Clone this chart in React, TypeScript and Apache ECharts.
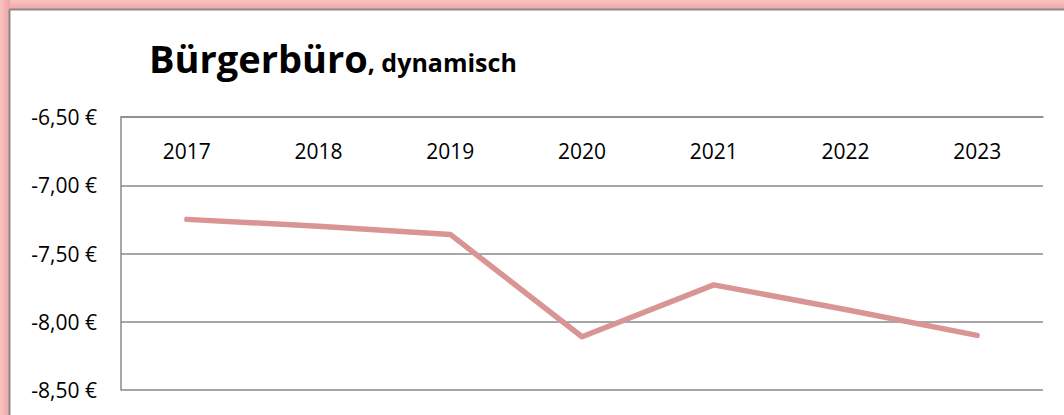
import React, { useEffect, useRef } from "react";
import * as echarts from "echarts";

const years = ["2017", "2018", "2019", "2020", "2021", "2022", "2023"];
const values = [-7.25, -7.3, -7.36, -8.11, -7.73, -7.91, -8.1];
const yMin = -8.5;
const yMax = -6.5;
const yStep = 0.5;
const titleMain = "Bürgerbüro";
const titleSub = ", dynamisch";

const FONT = "'Open Sans', 'Noto Sans', sans-serif";

export default function App() {
  const ref = useRef<HTMLDivElement>(null);
  useEffect(() => {
    document.body.style.margin = "0";
    const chart = echarts.init(ref.current!, null, { renderer: "svg" });
    chart.setOption({
      animation: false,
      backgroundColor: "#ffffff",
      textStyle: { fontFamily: FONT },
      graphic: [
        {
          type: "rect",
          z: -10,
          silent: true,
          shape: { x: 0, y: 0, width: 1064, height: 10 },
          style: {
            fill: new echarts.graphic.LinearGradient(0, 0, 0, 1, [
              { offset: 0, color: "#f9c4c4" },
              { offset: 1, color: "#f2a2a2" },
            ]),
          },
        },
        {
          type: "rect",
          z: -10,
          silent: true,
          shape: { x: 0, y: 0, width: 10, height: 415 },
          style: {
            fill: new echarts.graphic.LinearGradient(0, 0, 1, 0, [
              { offset: 0, color: "#f9c4c4" },
              { offset: 1, color: "#f2a2a2" },
            ]),
          },
        },
        {
          type: "line",
          z: -9,
          silent: true,
          shape: { x1: 9.5, y1: 9.5, x2: 1064, y2: 9.5 },
          style: { stroke: "#8a8a8a", lineWidth: 2 },
        },
        {
          type: "line",
          z: -9,
          silent: true,
          shape: { x1: 9.5, y1: 9.5, x2: 9.5, y2: 415 },
          style: { stroke: "#8a8a8a", lineWidth: 2 },
        },
        {
          type: "text",
          x: 149,
          y: 39,
          silent: true,
          style: {
            text: `{a|${titleMain}}{b|${titleSub}}`,
            verticalAlign: "top",
            rich: {
              a: {
                fontFamily: FONT,
                fontWeight: "bold",
                fontSize: 38,
                fill: "#000",
                verticalAlign: "bottom",
              },
              b: {
                fontFamily: FONT,
                fontWeight: "bold",
                fontSize: 25,
                fill: "#000",
                verticalAlign: "bottom",
                padding: [0, 0, 3, 0],
              },
            },
          },
        },
      ],
      grid: { left: 121, right: 21, top: 117, bottom: 25, containLabel: false },
      xAxis: {
        type: "category",
        data: years,
        position: "top",
        boundaryGap: true,
        axisLine: { show: true, lineStyle: { color: "#8a8a8a", width: 1.5 } },
        axisTick: { show: false },
        axisLabel: {
          inside: true,
          margin: 34,
          verticalAlign: "middle",
          fontFamily: FONT,
          fontSize: 21,
          color: "#000",
        },
        splitLine: { show: false },
      },
      yAxis: {
        type: "value",
        min: yMin,
        max: yMax,
        interval: yStep,
        axisLine: { show: true, lineStyle: { color: "#8a8a8a", width: 1.5 } },
        axisTick: { show: false },
        axisLabel: {
          margin: 24,
          fontFamily: FONT,
          fontSize: 21,
          color: "#000",
          formatter: (v: number) => v.toFixed(2).replace(".", ",") + " €",
        },
        splitLine: { show: true, lineStyle: { color: "#8a8a8a", width: 1.5 } },
      },
      series: [
        {
          type: "line",
          data: values,
          showSymbol: false,
          symbol: "none",
          lineStyle: { color: "#d99594", width: 5.5, cap: "round", join: "round" },
          z: 5,
        },
      ],
    });
    return () => chart.dispose();
  }, []);
  return (
    <div
      ref={ref}
      style={{ position: "fixed", left: 0, top: 0, width: 1064, height: 415 }}
    />
  );
}
